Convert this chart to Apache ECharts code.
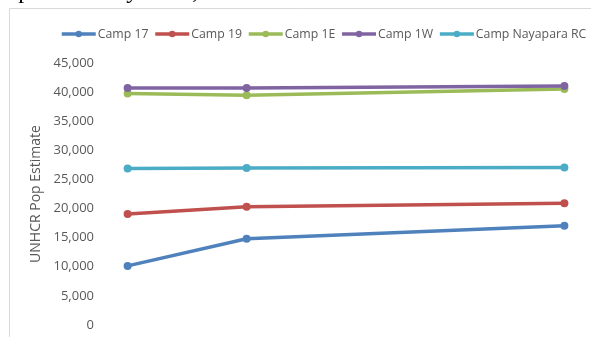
<!DOCTYPE html>
<html>
<head>
<meta charset="utf-8">
<script src="https://cdn.jsdelivr.net/npm/echarts@6/dist/echarts.min.js"></script>
<style>
  html, body { margin: 0; padding: 0; background: #fff; }
  #main { width: 591px; height: 337px; }
</style>
</head>
<body>
<div id="main"></div>
<script>
// survey dates (April, July 2018 and March 2019)
var dates = ['2018-04-01', '2018-07-01', '2019-03-01'];
var camps = ['Camp 17', 'Camp 19', 'Camp 1E', 'Camp 1W', 'Camp Nayapara RC'];
var camp17 = [10150, 14800, 17050];
var camp19 = [19050, 20300, 20900];
var camp1E = [39750, 39450, 40550];
var camp1W = [40700, 40700, 41050];
var nayapara = [26900, 26950, 27050];
var colors = ['#4F81BD', '#C0504D', '#9BBB59', '#8064A2', '#4BACC6'];
var values = [camp17, camp19, camp1E, camp1W, nayapara];

var myChart = echarts.init(document.getElementById('main'));

var series = camps.map(function (name, i) {
    return {
        name: name,
        type: 'line',
        data: dates.map(function (d, j) { return [d, values[i][j]]; }),
        symbol: 'circle',
        symbolSize: 8,
        lineStyle: { width: 3.5, color: colors[i] },
        itemStyle: { color: colors[i] }
    };
});

var option = {
    animation: false,
    color: colors,
    graphic: [
        {
            type: 'rect',
            shape: { x: 9.5, y: 8.5, width: 800, height: 500 },
            style: { fill: 'none', stroke: '#d9d9d9', lineWidth: 1 },
            silent: true
        },
        {
            type: 'text',
            x: 1, y: -8,
            style: {
                text: 'April and July 2018, and March 2019.',
                font: '24px "Liberation Serif"',
                fill: '#000',
                verticalAlign: 'middle'
            }
        }
    ],
    legend: {
        data: camps,
        left: 60,
        width: 600,
        top: 28,
        padding: 0,
        itemWidth: 34,
        itemHeight: 8,
        itemGap: 5,
        lineStyle: { width: 3.5 },
        textStyle: { fontFamily: 'Open Sans', fontSize: 12.3, color: '#595959', padding: [0, 0, 0, -3] }
    },
    grid: { left: 108, right: 7, top: 63, bottom: 12 },
    xAxis: {
        type: 'time',
        min: '2018-03-17',
        max: '2019-03-16',
        axisLine: { show: false },
        axisTick: { show: false },
        axisLabel: { show: false },
        splitLine: { show: false }
    },
    yAxis: {
        type: 'value',
        min: 0,
        max: 45000,
        interval: 5000,
        name: 'UNHCR Pop Estimate',
        nameLocation: 'middle',
        nameRotate: 90,
        nameGap: 55,
        nameTextStyle: { fontFamily: 'Open Sans', fontSize: 14, color: '#595959' },
        axisLine: { show: false },
        axisTick: { show: false },
        splitLine: { show: false },
        axisLabel: { fontFamily: 'Open Sans', fontSize: 13, color: '#595959', margin: 14 }
    },
    series: series
};

myChart.setOption(option);
</script>
</body>
</html>
